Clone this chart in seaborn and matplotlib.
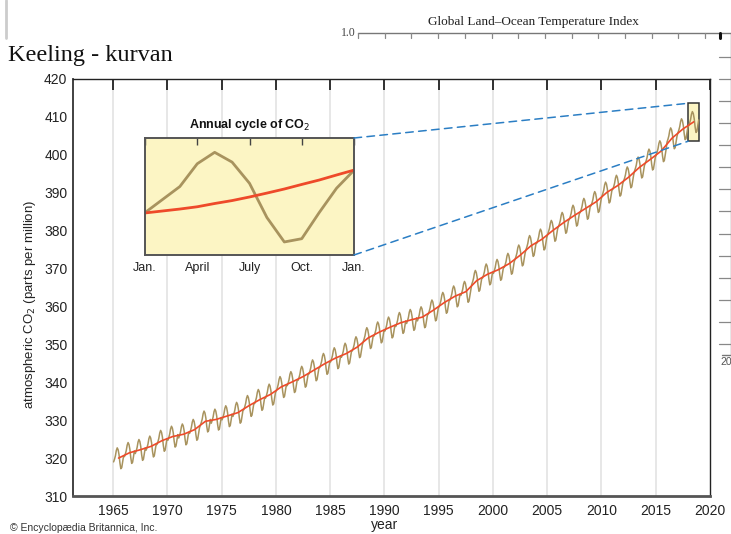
import numpy as np
import pandas as pd
import seaborn as sns
import matplotlib
matplotlib.use('Agg')
import matplotlib.pyplot as plt
from matplotlib.lines import Line2D
from matplotlib.patches import Rectangle, ConnectionPatch

# annual mean CO2 (ppm)
years = list(range(1965, 2019))
annual_ppm = [320.0, 321.4, 322.2, 323.1, 324.6, 325.7, 326.3, 327.5, 329.7, 330.2,
              331.1, 332.0, 333.8, 335.4, 336.8, 338.8, 340.1, 341.5, 343.2, 344.9,
              346.4, 347.6, 349.3, 351.7, 353.2, 354.5, 355.7, 356.5, 357.2, 359.0,
              361.0, 362.7, 363.9, 366.8, 368.5, 369.7, 371.3, 373.5, 376.0, 377.7,
              380.0, 382.1, 384.0, 385.8, 387.6, 390.1, 391.9, 394.1, 396.7, 398.8,
              401.0, 404.4, 406.8, 408.7]
# departure of each month from the year mean
month_offset = [-1.0, -0.3, 0.6, 2.0, 2.7, 2.2, 0.9, -1.3, -2.8, -2.5, -1.0, 0.5]

# inset: one year, Jan..Jan
inset_month = list(range(13))
inset_cycle = [407.6, 408.4, 409.2, 410.6, 411.3, 410.7, 409.4, 407.3, 405.8, 406.0, 407.6, 409.1, 410.2]
inset_trend = [407.58, 407.70, 407.82, 407.96, 408.16, 408.34, 408.56, 408.80, 409.05, 409.33, 409.60, 409.91, 410.21]
inset_labels = ['Jan.', 'April', 'July', 'Oct.', 'Jan.']

x_ticks = [1965, 1970, 1975, 1980, 1985, 1990, 1995, 2000, 2005, 2010, 2015, 2020]
y_ticks = list(range(310, 421, 10))

monthly = pd.DataFrame({
    'year': [y + (m + 0.5) / 12 for y in years for m in range(12)],
    'ppm': [a + month_offset[m] for a in annual_ppm for m in range(12)],
})
trend = pd.DataFrame({'year': [y + 0.5 for y in years], 'ppm': annual_ppm})

sns.set_style('white')
plt.rcParams['font.family'] = ['Liberation Sans', 'DejaVu Sans']

OLIVE = '#a8935e'
RED = '#ee4a2a'
BLUE = '#2b7ec4'
YELLOW = '#fcf5c4'
W, H = 731, 534

fig = plt.figure(figsize=(7.31, 5.34), dpi=100)
ax = fig.add_axes([73 / W, 1 - 496 / H, 637 / W, 417 / H])

for xv in x_ticks[:-1]:
    ax.axvline(xv, color='#e3e3e3', lw=1.2, zorder=0)

ax.add_patch(Rectangle((2018, 403.6), 1, 10, facecolor=YELLOW, edgecolor='#333333', lw=1.1, zorder=1.5))
sns.lineplot(data=monthly, x='year', y='ppm', color=OLIVE, lw=1.1, ax=ax, sort=False, estimator=None, zorder=2)
sns.lineplot(data=trend, x='year', y='ppm', color=RED, lw=1.2, ax=ax, estimator=None, zorder=3)

ax.set_xlim(1961.3, 2020)
ax.set_ylim(310, 420)
ax.set_xticks(x_ticks)
ax.set_yticks(y_ticks)
ax.set_xlabel('')
ax.set_ylabel('')
ax.tick_params(axis='x', direction='in', length=8, width=1.3, top=True, color='#222222',
               labelsize=10, pad=6, labelcolor='#222222')
ax.tick_params(axis='y', direction='in', length=12, width=1.3, color='#222222',
               labelsize=10, pad=4, labelcolor='#222222')
for side in ['top', 'right']:
    ax.spines[side].set_color('#222222')
    ax.spines[side].set_linewidth(1.0)
ax.spines['left'].set_color('#333333')
ax.spines['left'].set_linewidth(1.3)
ax.spines['bottom'].set_color('#555555')
ax.spines['bottom'].set_linewidth(2.0)

# inset with the annual cycle
ins = fig.add_axes([145 / W, 1 - 255 / H, 209 / W, 117 / H])
ins.set_facecolor(YELLOW)
sns.lineplot(x=inset_month, y=inset_cycle, color=OLIVE, lw=2.0, ax=ins, estimator=None)
sns.lineplot(x=inset_month, y=inset_trend, color=RED, lw=2.0, ax=ins, estimator=None)
ins.set_xlim(0, 12)
ins.set_ylim(405, 412.18)
ins.set_xticks([0, 3, 6, 9, 12])
ins.set_xticklabels(inset_labels)
ins.set_yticks([])
ins.tick_params(axis='x', direction='in', length=5, width=1.0, top=True, color='#444444',
                labelsize=9, pad=5, labelcolor='#222222')
for s in ins.spines.values():
    s.set_color('#555555')
    s.set_linewidth(1.4)
ins.set_title('Annual cycle of CO$_2$', fontsize=9, fontweight='bold', pad=7, color='#111111')

for xa, ya in [((1, 1), (2018, 413.6)), ((1, 0), (2018, 403.6))]:
    cp = ConnectionPatch(xyA=xa, coordsA=ins.transAxes, xyB=ya, coordsB=ax.transData,
                         color=BLUE, lw=1.1, linestyle=(0, (5, 3.5)), zorder=5)
    fig.add_artist(cp)

# text around the chart
fig.text(30 / W, 1 - 304 / H, 'atmospheric CO$_2$ (parts per million)', rotation=90,
         ha='center', va='center', fontsize=9.5, color='#222222')
fig.text(385 / W, 1 - 525 / H, 'year', ha='center', va='center', fontsize=10, color='#222222')
fig.text(10 / W, 1 - 528 / H, '\u00a9 Encyclop\u00e6dia Britannica, Inc.', ha='left', va='center',
         fontsize=7.5, color='#333333')
fig.text(8 / W, 1 - 61 / H, 'Keeling - kurvan', ha='left', va='baseline', fontsize=17.5,
         family=['Liberation Serif', 'DejaVu Serif'], color='#111111')

# fragment of the chart behind
fig.text(533 / W, 1 - 25 / H, 'Global Land\u2013Ocean Temperature Index', ha='center', va='baseline',
         fontsize=9.5, family=['Liberation Serif', 'DejaVu Serif'], color='#222222')
fig.text(356 / W, 1 - 33 / H, '1.0', ha='right', va='center', fontsize=8.5,
         family=['Liberation Serif', 'DejaVu Serif'], color='#444444')
ytop = 1 - 33 / H
fig.add_artist(Line2D([358 / W, 1], [ytop, ytop], transform=fig.transFigure, color='#777777', lw=1.0))
for k in range(14):
    xk = (358 + 26.7 * k) / W
    fig.add_artist(Line2D([xk, xk], [ytop, ytop - 5 / H], transform=fig.transFigure, color='#888888', lw=0.9))
fig.add_artist(Line2D([720 / W, 720 / W], [ytop, ytop - 5 / H], transform=fig.transFigure, color='#111111', lw=2.2))
fig.add_artist(Line2D([730.5 / W, 730.5 / W], [ytop, 1 - 355 / H], transform=fig.transFigure, color='#888888', lw=1.0))
for k in range(14):
    yk = 1 - (56.7 + 22.1 * k) / H
    fig.add_artist(Line2D([719 / W, 731 / W], [yk, yk], transform=fig.transFigure, color='#888888', lw=0.9))
fig.add_artist(Line2D([722 / W, 731 / W], [1 - 355 / H, 1 - 355 / H], transform=fig.transFigure, color='#777777', lw=1.0))
fig.text(720 / W, 1 - 362 / H, '20', ha='left', va='center', fontsize=7.5, color='#555555')
fig.add_artist(Line2D([6 / W, 6 / W], [1, 1 - 38 / H], transform=fig.transFigure, color='#cccccc', lw=2.0))

fig.savefig('out.png', dpi=100)
